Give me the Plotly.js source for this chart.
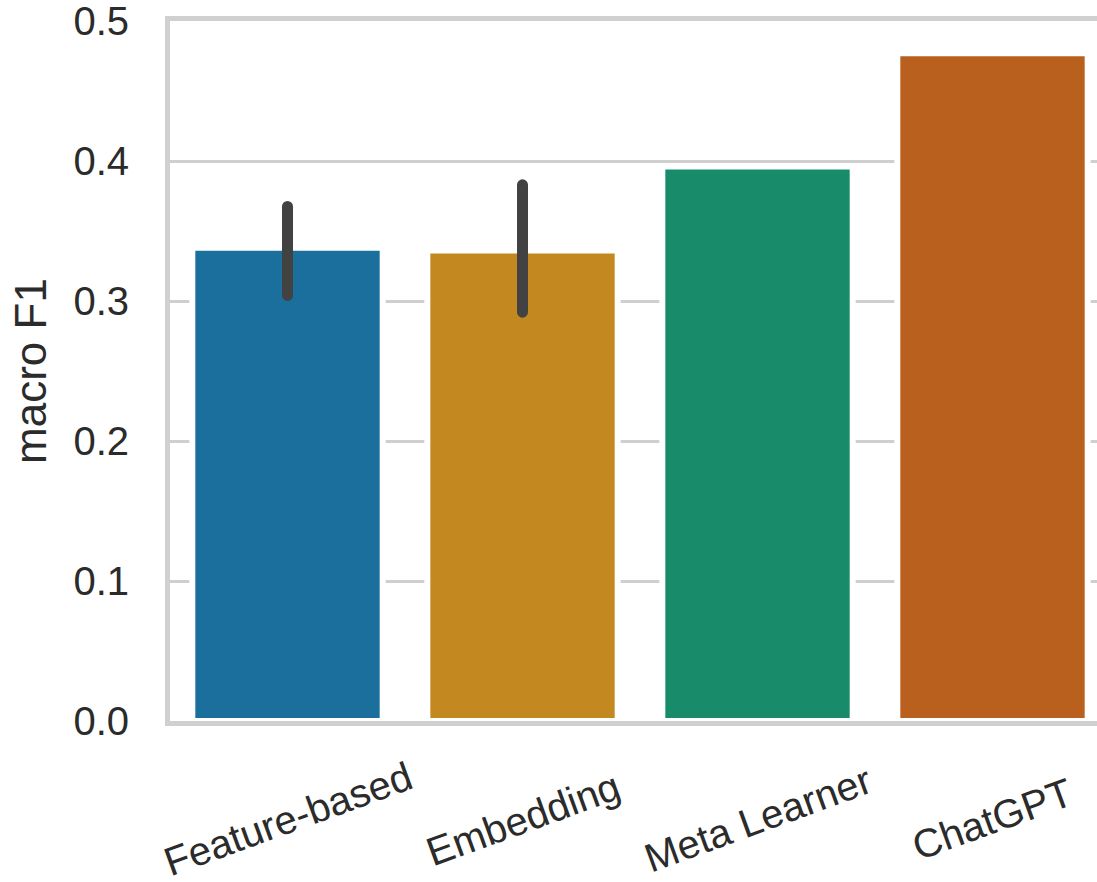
<!DOCTYPE html>
<html>
<head>
<meta charset="utf-8">
<script src="https://cdn.plot.ly/plotly-3.0.1.min.js"></script>
<style>
  html, body { margin: 0; padding: 0; background: #ffffff; overflow: hidden; }
  #chart { width: 1130px; height: 882px; }
  /* rounded ends on the confidence-interval bars */
  .errorbar path { stroke-linecap: round; }
</style>
</head>
<body>
<div id="chart"></div>
<script>
// Macro F1 per approach, with 95% confidence intervals where available
const categories = ['Feature-based', 'Embedding', 'Meta Learner', 'ChatGPT'];
const macroF1 = [0.338, 0.336, 0.396, 0.477];
const ciLow = [0.304, 0.292, null, null];
const ciHigh = [0.3675, 0.383, null, null];
const barColors = ['#1a6f9d', '#c38820', '#178b6a', '#b9601e'];
const yTicks = [0, 0.1, 0.2, 0.3, 0.4, 0.5];
const yTickText = ['0.0', '0.1', '0.2', '0.3', '0.4', '0.5'];

const errPlus = macroF1.map((v, i) => ciHigh[i] == null ? NaN : ciHigh[i] - v);
const errMinus = macroF1.map((v, i) => ciLow[i] == null ? NaN : v - ciLow[i]);

const font = 'Liberation Sans, Arial, sans-serif';
const textColor = '#2b2b2b';

const bars = {
  type: 'bar',
  x: categories,
  y: macroF1,
  marker: { color: barColors, line: { color: '#ffffff', width: 6 } },
  error_y: {
    type: 'data',
    symmetric: false,
    array: errPlus,
    arrayminus: errMinus,
    color: '#424242',
    thickness: 11,
    width: 0
  },
  hoverinfo: 'x+y',
  showlegend: false
};

// Category labels drawn centred under each bar, tilted
const labelAnnotations = categories.map(c => ({
  x: c, xref: 'x',
  y: -0.14, yref: 'paper',
  text: c,
  textangle: -20,
  showarrow: false,
  xanchor: 'center', yanchor: 'middle',
  font: { family: font, size: 40, color: textColor }
}));

const layout = {
  width: 1130,
  height: 882,
  margin: { l: 170, r: 20, t: 21, b: 161 },
  paper_bgcolor: '#ffffff',
  plot_bgcolor: '#ffffff',
  bargap: 0.19,
  xaxis: {
    type: 'category',
    range: [-0.5, 3.5],
    showticklabels: false,
    showgrid: false,
    showline: true,
    linecolor: '#d0d0d0',
    linewidth: 5,
    mirror: true,
    ticks: '',
    fixedrange: true
  },
  yaxis: {
    range: [0, 0.5],
    tickvals: yTicks,
    ticktext: yTickText,
    tickfont: { family: font, size: 40, color: textColor },
    ticklabeloverflow: 'allow',
    ticks: '',
    ticklabelstandoff: 28,
    showgrid: true,
    gridcolor: '#cfcfcf',
    gridwidth: 3,
    zeroline: false,
    showline: true,
    linecolor: '#d0d0d0',
    linewidth: 5,
    mirror: true,
    title: { text: 'macro F1', font: { family: font, size: 44, color: textColor }, standoff: 14 },
    automargin: false,
    fixedrange: true
  },
  annotations: labelAnnotations
};

Plotly.newPlot('chart', [bars], layout, { displayModeBar: false, staticPlot: true });
</script>
</body>
</html>
